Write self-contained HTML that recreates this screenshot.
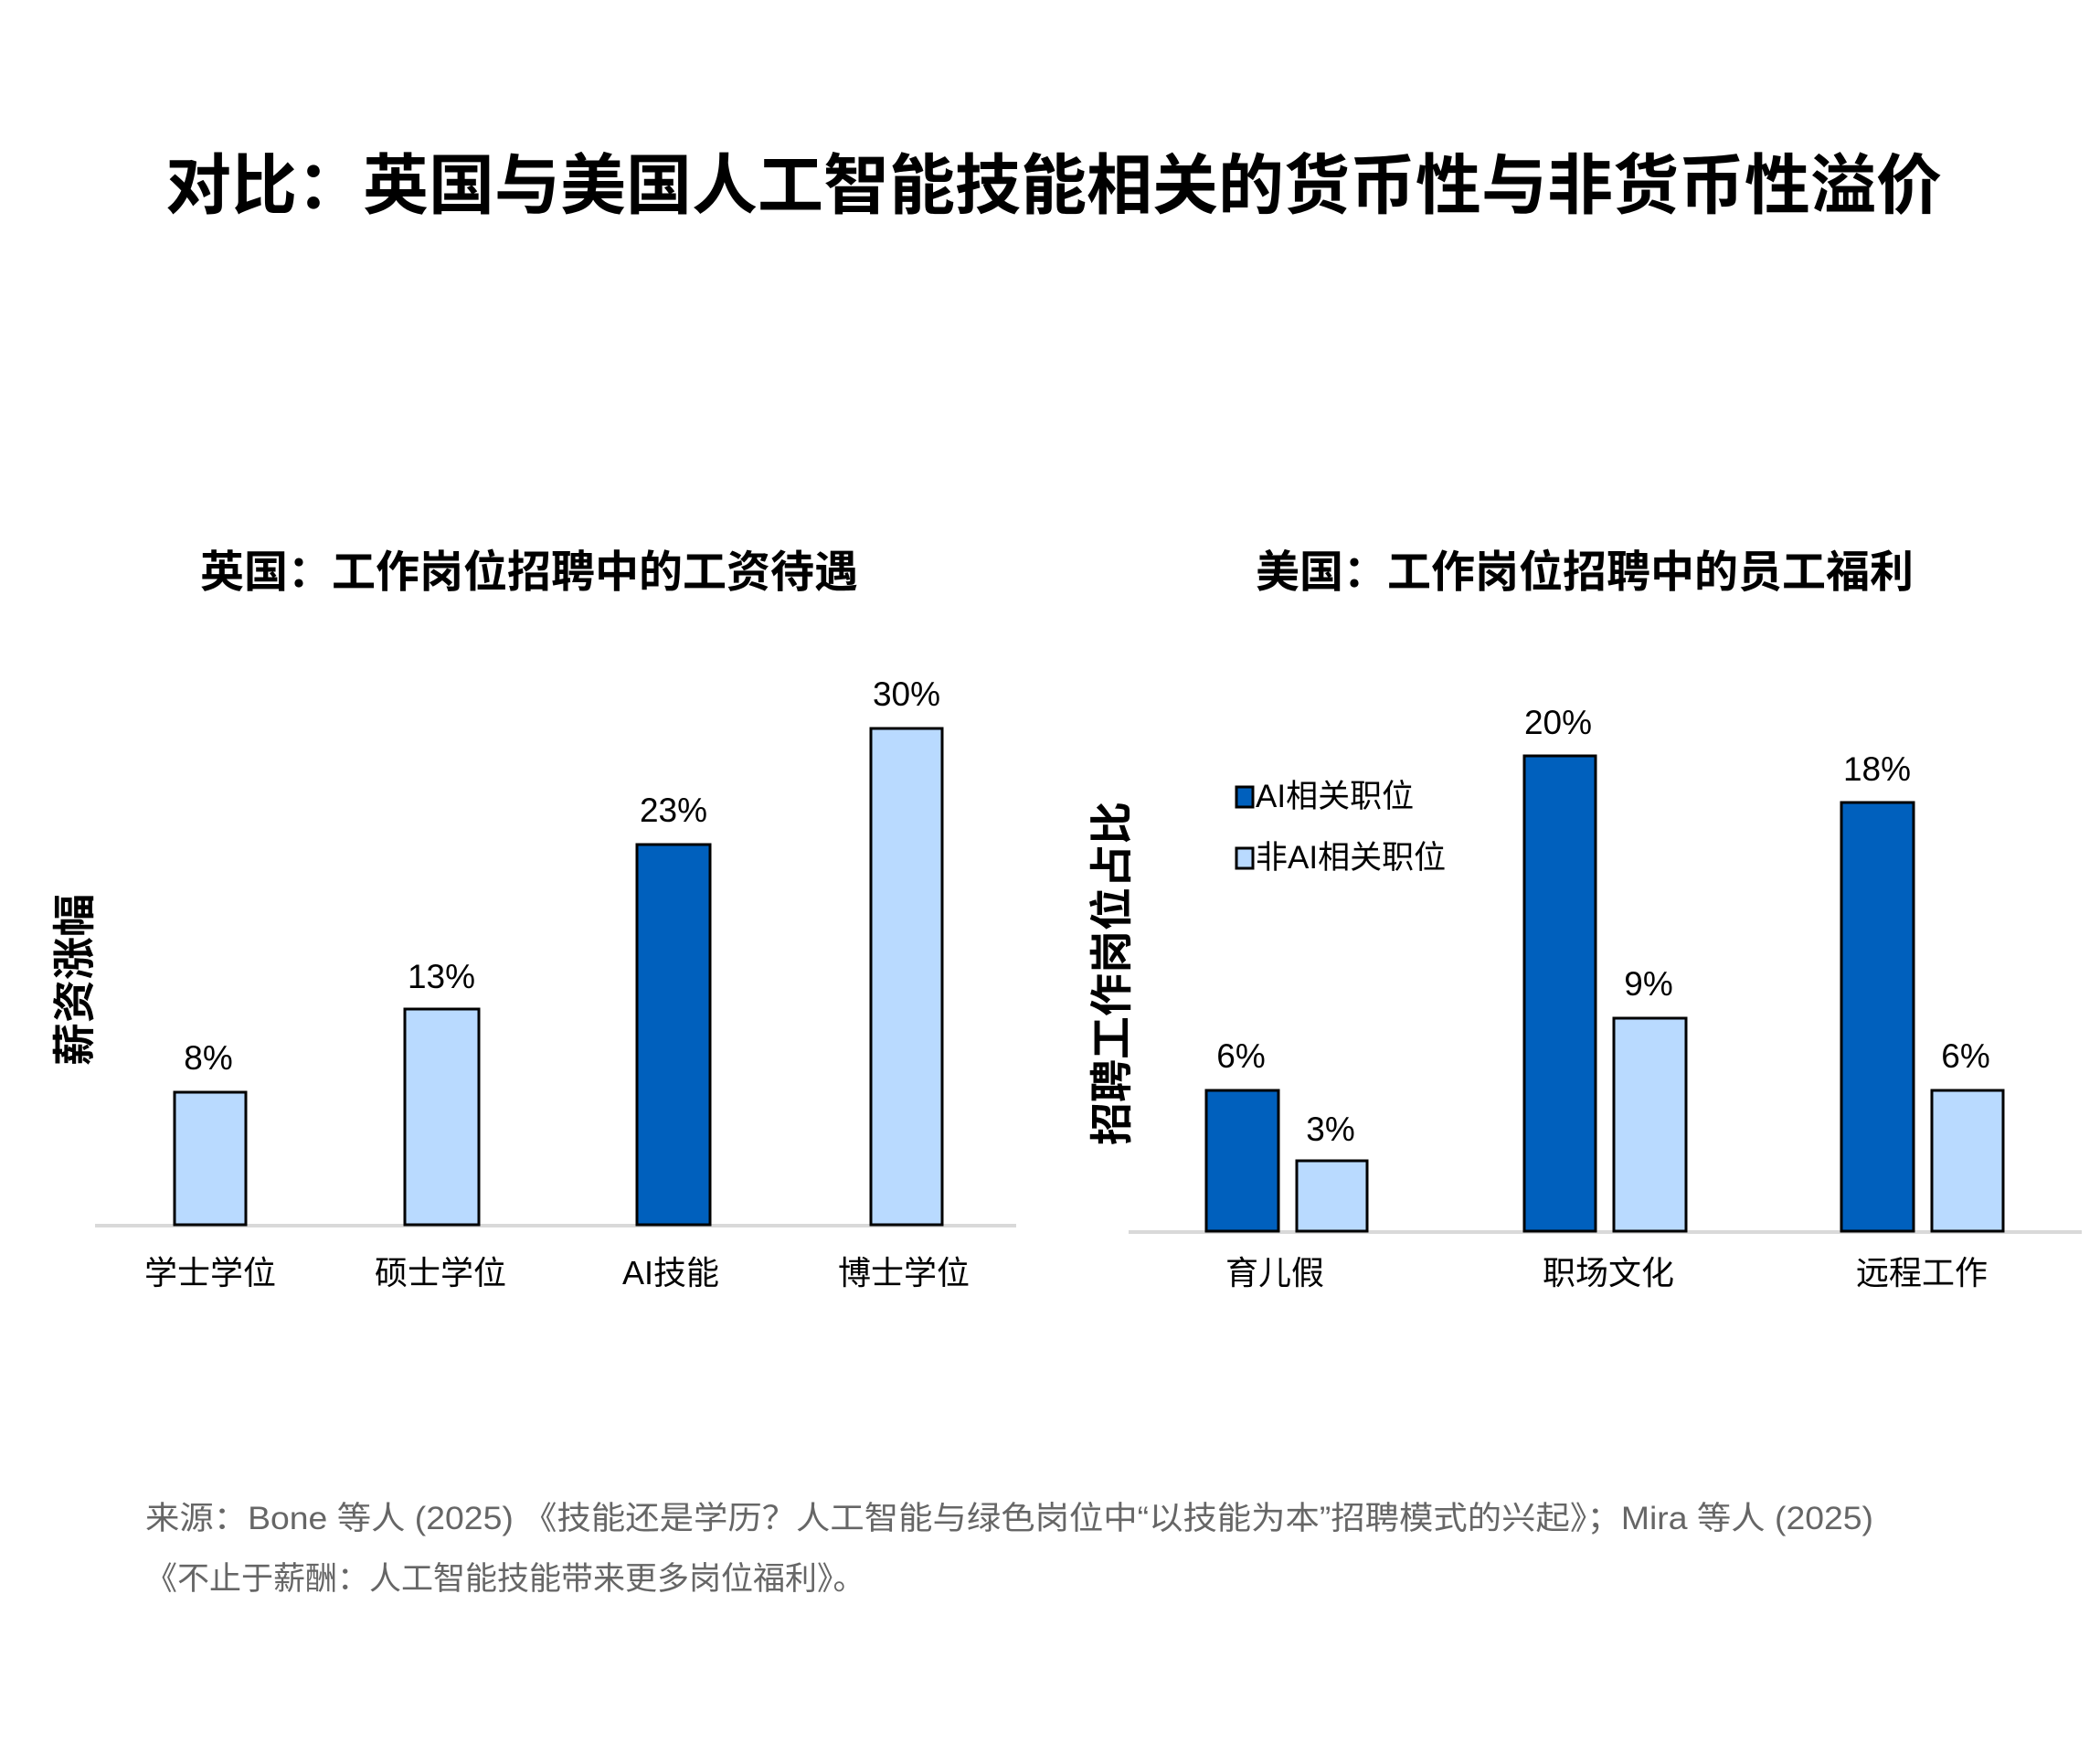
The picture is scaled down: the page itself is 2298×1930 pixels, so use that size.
<!DOCTYPE html>
<html><head><meta charset="utf-8"><style>
html,body{margin:0;padding:0;background:#fff;}
svg{display:block;}
text{font-family:"Liberation Sans","Noto Sans CJK SC",sans-serif;}
</style></head><body>
<svg width="2298" height="1930" viewBox="0 0 2298 1930" xmlns="http://www.w3.org/2000/svg">
<text x="1153" y="228" font-size="72" font-weight="bold" text-anchor="middle" fill="#000" textLength="1944" lengthAdjust="spacingAndGlyphs">对比：英国与美国人工智能技能相关的货币性与非货币性溢价</text>
<text x="579" y="642" font-size="48" font-weight="bold" text-anchor="middle" fill="#000">英国：工作岗位招聘中的工资待遇</text>
<text x="1734" y="642" font-size="48" font-weight="bold" text-anchor="middle" fill="#000">美国：工作岗位招聘中的员工福利</text>

<!-- Left chart -->
<line x1="104" y1="1341" x2="1112" y2="1341" stroke="#d9d9d9" stroke-width="4"/>
<g stroke="#000" stroke-width="3">
<rect x="191" y="1195" width="78" height="145" fill="#b9daff"/>
<rect x="443" y="1104" width="81" height="236" fill="#b9daff"/>
<rect x="697" y="924" width="80" height="416" fill="#0060bd"/>
<rect x="953" y="797" width="78" height="543" fill="#b9daff"/>
</g>
<g font-size="37" text-anchor="middle" fill="#000">
<text x="228" y="1170">8%</text>
<text x="483" y="1081">13%</text>
<text x="737" y="899">23%</text>
<text x="992" y="772">30%</text>
</g>
<g font-size="36" text-anchor="middle" fill="#000">
<text x="230" y="1405">学士学位</text>
<text x="482" y="1405">硕士学位</text>
<text x="734" y="1405">AI技能</text>
<text x="989" y="1405">博士学位</text>
</g>
<text transform="translate(98,1072) rotate(-90)" font-size="47" font-weight="bold" text-anchor="middle" fill="#000">薪资涨幅</text>

<!-- Right chart -->
<line x1="1235" y1="1348" x2="2278" y2="1348" stroke="#d9d9d9" stroke-width="4"/>
<g stroke="#000" stroke-width="3">
<rect x="1320" y="1193" width="79" height="154" fill="#0060bd"/>
<rect x="1419" y="1270" width="77" height="77" fill="#b9daff"/>
<rect x="1668" y="827" width="78" height="520" fill="#0060bd"/>
<rect x="1766" y="1114" width="79" height="233" fill="#b9daff"/>
<rect x="2015" y="878" width="79" height="469" fill="#0060bd"/>
<rect x="2114" y="1193" width="78" height="154" fill="#b9daff"/>
</g>
<g font-size="37" text-anchor="middle" fill="#000">
<text x="1358" y="1168">6%</text>
<text x="1456" y="1248">3%</text>
<text x="1705" y="803">20%</text>
<text x="1804" y="1089">9%</text>
<text x="2054" y="854">18%</text>
<text x="2151" y="1168">6%</text>
</g>
<g font-size="36" text-anchor="middle" fill="#000">
<text x="1395" y="1405">育儿假</text>
<text x="1760" y="1405">职场文化</text>
<text x="2103" y="1405">远程工作</text>
</g>
<g stroke="#000" stroke-width="3">
<rect x="1353" y="861" width="18" height="22" fill="#0060bd"/>
<rect x="1353" y="928" width="18" height="22" fill="#b9daff"/>
</g>
<g font-size="35" fill="#000">
<text x="1374" y="883">AI相关职位</text>
<text x="1374" y="950">非AI相关职位</text>
</g>
<text transform="translate(1233,1065) rotate(-90)" font-size="47" font-weight="bold" text-anchor="middle" fill="#000">招聘工作岗位占比</text>

<!-- Footnote -->
<g font-size="35" fill="#666">
<text x="159" y="1673" textLength="1891" lengthAdjust="spacingAndGlyphs">来源：Bone 等人 (2025) 《技能还是学历？人工智能与绿色岗位中“以技能为本”招聘模式的兴起》；Mira 等人 (2025)</text>
<text x="159" y="1739">《不止于薪酬：人工智能技能带来更多岗位福利》。</text>
</g>
</svg>
</body></html>
